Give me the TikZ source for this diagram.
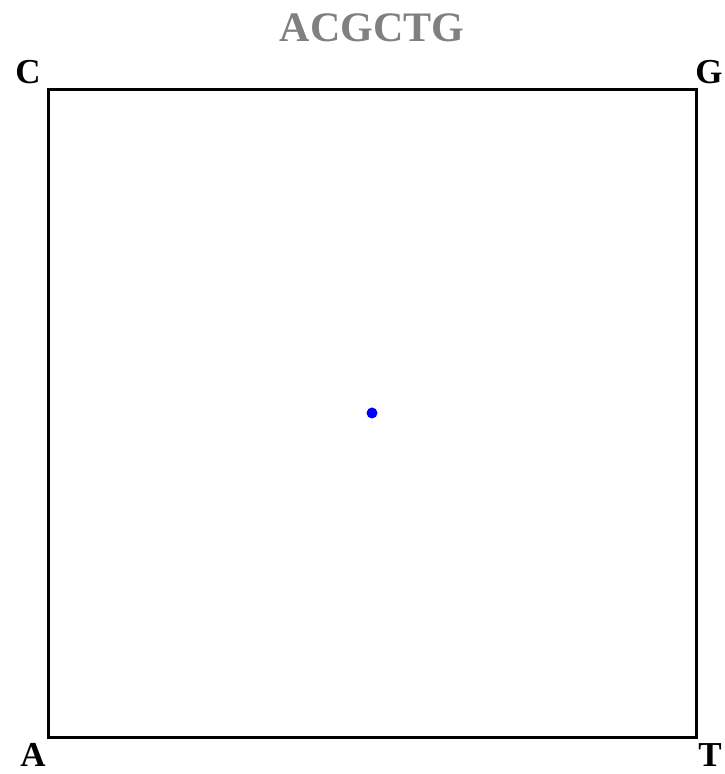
\documentclass[tikz,border=0pt]{standalone}
\usepackage{fontspec}
\setmainfont{Liberation Serif}
\usetikzlibrary{positioning}
\definecolor{TitleGray}{HTML}{808080}
\definecolor{PointBlue}{HTML}{0000FF}
\tikzset{
    % Text styles
    titlelabel/.style={
        font=\fontsize{42}{44}\selectfont\bfseries,
        text=TitleGray,
        inner sep=0pt
    },
    cornerlabel/.style={
        font=\fontsize{35}{38}\selectfont\bfseries,
        text=black,
        inner sep=0pt
    },
    % Frame and point
    frame/.style={
        draw=black,
        line width=3pt
    },
    seqpoint/.style={
        circle,
        fill=PointBlue,
        inner sep=0pt,
        minimum size=11pt
    }
}
\begin{document}
\begin{tikzpicture}[x=1pt,y=1pt]
                % Canvas
                \useasboundingbox (0,0) rectangle (724,774);

                % Square frame
                \coordinate (sw) at (48,36);
                \coordinate (ne) at (696,684);
                \draw[frame] (sw) rectangle (ne);

                % Title
                \node[titlelabel] (title) at (372,746) {ACGCTG};

                % Corner labels
                \node[cornerlabel] (labC) at (28,702) {C};
                \node[cornerlabel] (labG) at (709,702) {G};
                \node[cornerlabel] (labA) at (33,19) {A};
                \node[cornerlabel] (labT) at (710,19) {T};

                % Point
                \node[seqpoint] (pt) at (372,361) {};
\end{tikzpicture}
\end{document}
